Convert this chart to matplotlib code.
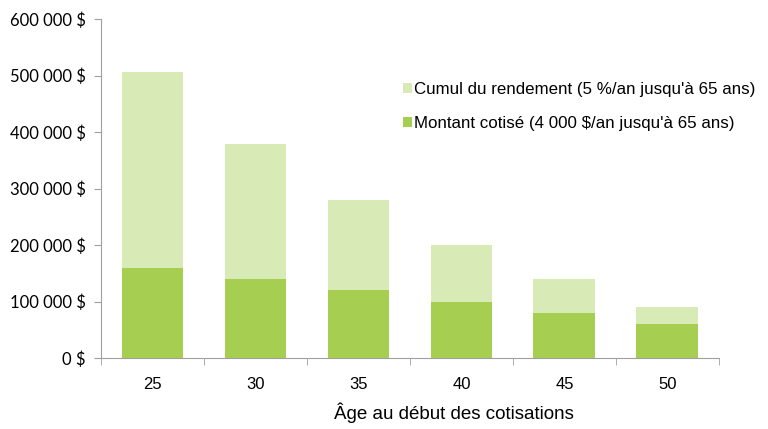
import matplotlib
matplotlib.use('Agg')
import matplotlib.pyplot as plt
from matplotlib.ticker import FuncFormatter

# données
ages = ['25', '30', '35', '40', '45', '50']
montant_cotise = [160000, 140000, 120000, 100000, 80000, 60000]
cumul_rendement = [347000, 239000, 159000, 100000, 59000, 31000]

vert_fonce = '#a6ce50'
vert_clair = '#d8eab6'
gris = '#a0a0a0'

fig = plt.figure(figsize=(7.68, 4.29), dpi=100)
ax = fig.add_axes([0.1315, 0.1655, 0.8045, 0.790])

x = range(len(ages))
b1 = ax.bar(x, montant_cotise, width=0.6, color=vert_fonce,
            label='Montant cotisé (4 000 $/an jusqu\'à 65 ans)')
b2 = ax.bar(x, cumul_rendement, width=0.6, bottom=montant_cotise, color=vert_clair,
            label='Cumul du rendement (5 %/an jusqu\'à 65 ans)')

ax.set_xlim(-0.5, len(ages) - 0.5)
ax.set_ylim(0, 600000)
ax.set_yticks(range(0, 600001, 100000))
ax.yaxis.set_major_formatter(FuncFormatter(
    lambda v, p: '{:,.0f} $'.format(v).replace(',', ' ')))

ax.set_xticks(list(x))
ax.set_xticklabels(ages, fontfamily='Liberation Sans', fontsize=12)
ax.set_xticks([i - 0.5 for i in range(len(ages) + 1)], minor=True)
ax.tick_params(axis='x', which='major', length=0, pad=14)
ax.tick_params(axis='x', which='minor', length=5, color=gris, direction='out')
ax.tick_params(axis='y', length=5, color=gris, labelsize=12, pad=6)
for lab in ax.get_yticklabels():
    lab.set_fontfamily('Lato')

for s in ['top', 'right']:
    ax.spines[s].set_visible(False)
for s in ['left', 'bottom']:
    ax.spines[s].set_color(gris)

ax.set_xlabel('Âge au début des cotisations', fontfamily='Liberation Sans',
              fontsize=13.5, labelpad=12)
ax.xaxis.set_label_coords(0.572, -0.13)

ax.legend([b2, b1], [b2.get_label(), b1.get_label()], loc='upper left',
          bbox_to_anchor=(0.505, 0.845), bbox_transform=fig.transFigure,
          frameon=False, handlelength=0.55, handleheight=0.55, handletextpad=0.1,
          labelspacing=1.15, prop={'family': 'Liberation Sans', 'size': 12.2})

plt.savefig('out.png', dpi=100)
plt.close()
